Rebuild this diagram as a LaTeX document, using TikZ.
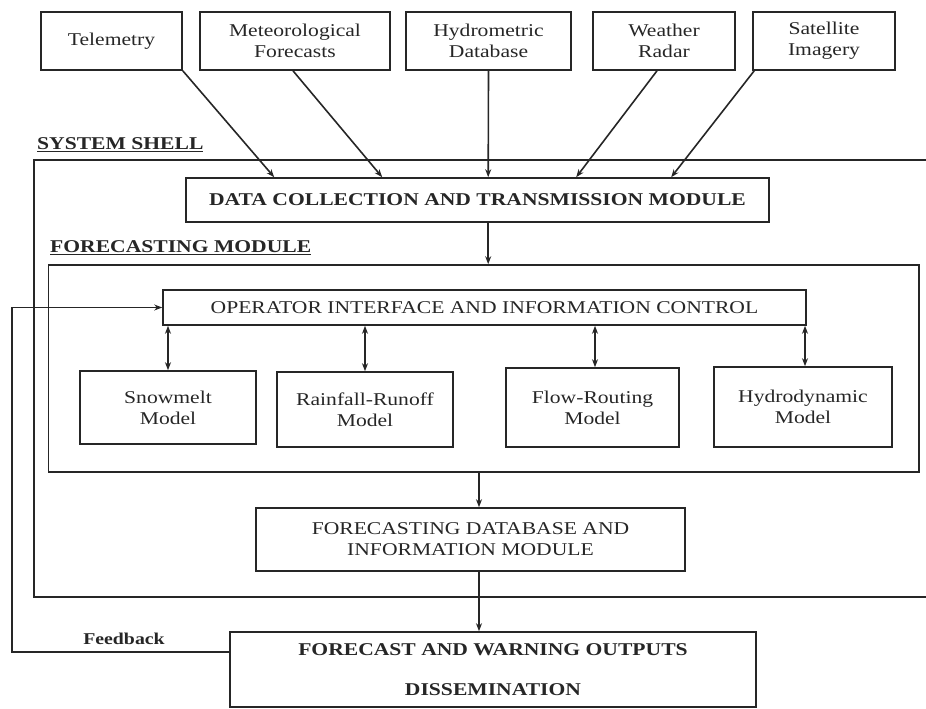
\documentclass[tikz,border=0pt]{standalone}
\usepackage{fontspec}
\setmainfont{Liberation Serif}[FakeStretch=1.2]
\usetikzlibrary{arrows.meta,calc}
\definecolor{ink}{HTML}{262626}
\begin{document}
\begin{tikzpicture}[x=1pt,y=-1pt,
  box/.style={draw=ink,line width=1.6pt,inner sep=0pt,align=center,text=ink,
    font=\fontsize{18}{21}\selectfont},
  lbl/.style={inner sep=0pt,text=ink,font=\fontsize{18}{21}\selectfont\bfseries},
  conn/.style={draw=ink,line width=1.6pt},
  arr/.style={conn,-{Stealth[length=8pt,width=6pt]}},
  darr/.style={conn,{Stealth[length=8pt,width=6pt]}-{Stealth[length=8pt,width=6pt]}}]
\useasboundingbox (0,0) rectangle (926,709);
\clip (0,0) rectangle (926,709);

% data sources
\node[box,minimum width=141pt,minimum height=58pt] (tele) at (111.5,41) {Telemetry};
\node[box,minimum width=190pt,minimum height=58pt] (met) at (295,41) {Meteorological\\Forecasts};
\node[box,minimum width=165pt,minimum height=58pt] (hyd) at (488.5,41) {Hydrometric\\Database};
\node[box,minimum width=142pt,minimum height=58pt] (rad) at (664,41) {Weather\\Radar};
\node[box,minimum width=142pt,minimum height=58pt] (sat) at (824,41) {Satellite\\Imagery};

% system shell frame (runs past the right edge)
\node[lbl,anchor=west] (shell) at (37,145) {\underline{SYSTEM SHELL}};
\draw[ink,line width=1.6pt] (960,160) -- (34,160) -- (34,597) -- (960,597);

\node[box,minimum width=583pt,minimum height=44pt,font=\fontsize{18}{21}\selectfont\bfseries] (data) at (477.5,200)
  {DATA COLLECTION AND TRANSMISSION MODULE};

\draw[arr] (tele.south east) -- ([xshift=89pt]data.north west);
\draw[arr] ([xshift=-2pt]met.south) -- ([xshift=197pt]data.north west);
\draw[arr] (hyd.south) -- ([xshift=303pt]data.north west);
\draw[arr] ([xshift=-7pt]rad.south) -- ([xshift=391pt]data.north west);
\draw[arr] ([xshift=2pt]sat.south west) -- ([xshift=486pt]data.north west);

% forecasting module
\node[lbl,anchor=west] (fmlbl) at (50,248) {\underline{FORECASTING MODULE}};
\node[box,minimum width=870.5pt,minimum height=207pt] (fm) at (483.75,368.5) {};
\draw[arr] ([xshift=303pt]data.south west) -- ([xshift=303pt]data.south west |- fm.north);

\node[box,minimum width=643pt,minimum height=35pt] (op) at (484.5,307.5)
  {OPERATOR INTERFACE AND INFORMATION CONTROL};

\node[box,minimum width=176pt,minimum height=73pt] (snow) at (168,407.5) {Snowmelt\\Model};
\node[box,minimum width=176pt,minimum height=75pt] (rain) at (365,409.5) {Rainfall-Runoff\\Model};
\node[box,minimum width=173pt,minimum height=79pt] (flow) at (592.5,407.5) {Flow-Routing\\Model};
\node[box,minimum width=178pt,minimum height=80pt] (hydro) at (803,407) {Hydrodynamic\\Model};

\draw[darr] (snow.north |- op.south) -- (snow.north);
\draw[darr] (rain.north |- op.south) -- (rain.north);
\draw[darr] ([xshift=2.5pt]flow.north |- op.south) -- ([xshift=2.5pt]flow.north);
\draw[darr] ([xshift=2pt]hydro.north |- op.south) -- ([xshift=2pt]hydro.north);

% database and outputs
\coordinate (spine) at (479,0);
\node[box,minimum width=429pt,minimum height=63pt] (fdb) at (470.5,539.5)
  {FORECASTING DATABASE AND\\INFORMATION MODULE};
\node[box,minimum width=526pt,minimum height=75pt,font=\fontsize{18}{21}\selectfont\bfseries] (out) at (493,669.5)
  {FORECAST AND WARNING OUTPUTS\\[19pt]DISSEMINATION};

\draw[arr] (spine |- fm.south) -- (spine |- fdb.north);
\draw[arr] (spine |- fdb.south) -- (spine |- out.north);

% feedback loop
\coordinate (fbturn) at (12,652);
\draw[arr,line width=1.2pt] ([yshift=17.5pt]out.west) -- (fbturn) -- (fbturn |- op.west) -- (op.west);
\node[lbl,font=\fontsize{16.5}{19}\selectfont\bfseries] (fb) at (124,639) {Feedback};
\end{tikzpicture}
\end{document}
